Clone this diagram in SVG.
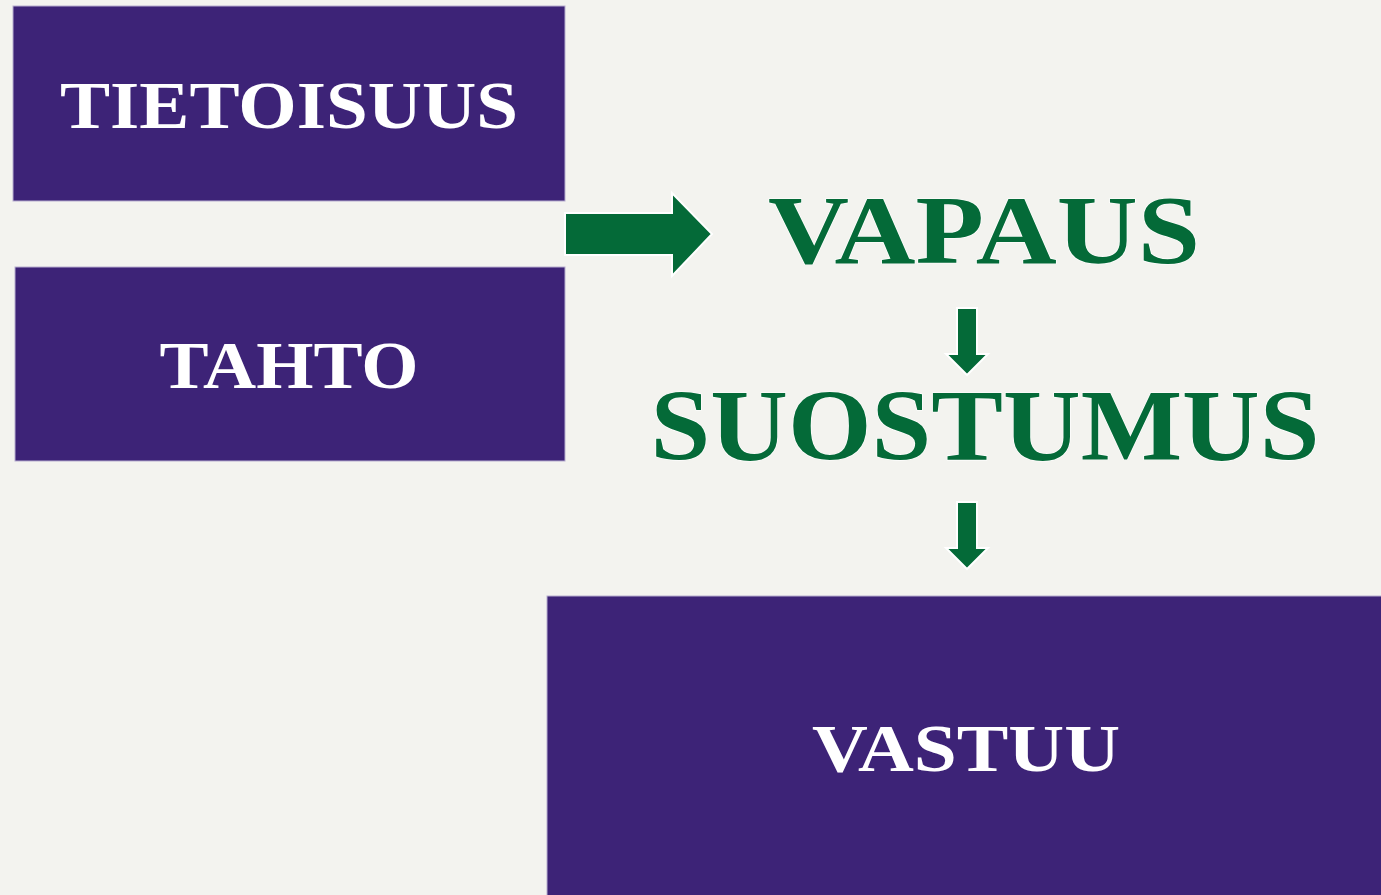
<svg xmlns="http://www.w3.org/2000/svg" width="1381" height="895" viewBox="0 0 1381 895">
<style>
.box{fill:#3d2377;stroke:#b7aed0;stroke-width:1}
.wt{fill:#ffffff;font-family:"Liberation Serif","Times New Roman",serif;font-weight:bold;text-anchor:middle}
.gt{fill:#046a38;stroke:#ffffff;stroke-width:1.2;paint-order:stroke;font-family:"Liberation Serif","Times New Roman",serif;font-weight:bold;text-anchor:middle}
.arr{fill:#046a38;stroke:#ffffff;stroke-width:2;stroke-linejoin:miter}
</style>
<rect width="1381" height="895" fill="#f3f3ef"/>
<g id="tietoisuus">
<rect class="box" x="13" y="6" width="552" height="195"/>
<text class="wt" x="289" y="128" font-size="68" textLength="458" lengthAdjust="spacingAndGlyphs">TIETOISUUS</text>
</g>
<g id="tahto">
<rect class="box" x="15" y="267" width="550" height="194"/>
<text class="wt" x="289" y="388" font-size="68" textLength="259" lengthAdjust="spacingAndGlyphs">TAHTO</text>
</g>
<g id="vapaus">
<text class="gt" x="984" y="263" font-size="97" textLength="432" lengthAdjust="spacingAndGlyphs">VAPAUS</text>
</g>
<g id="suostumus">
<text class="gt" x="985" y="460" font-size="101" textLength="669" lengthAdjust="spacingAndGlyphs">SUOSTUMUS</text>
</g>
<g id="vastuu">
<rect class="box" x="547" y="596" width="836" height="301"/>
<text class="wt" x="966" y="771" font-size="67" textLength="308" lengthAdjust="spacingAndGlyphs">VASTUU</text>
</g>
<g id="connectors">
<polygon class="arr" points="565,213 672,213 672,193 712,234 672,276 672,255 565,255"/>
<polygon class="arr" points="957,308 977,308 977,354 988,354 967,375 946,354 957,354"/>
<polygon class="arr" points="957,502 977,502 977,548 988,548 967,569 946,548 957,548"/>
</g>
</svg>
